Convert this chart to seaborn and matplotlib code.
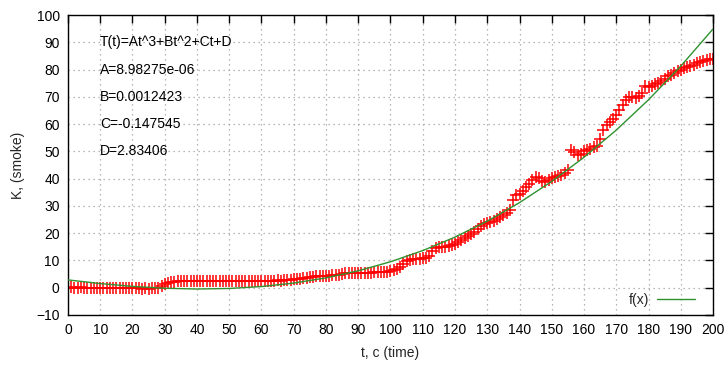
import numpy as np
import pandas as pd
import matplotlib
matplotlib.use("Agg")
import matplotlib.pyplot as plt
import seaborn as sns

# measured data: time (s) and smoke level
t_data = list(range(0, 201))
k_data = [
    0.0, 0.1, -0.1, 0.0, 0.1, -0.1, 0.0, -0.1, 0.0, -0.2,
    -0.1, -0.2, 0.0, -0.1, -0.2, -0.1, -0.2, -0.3, -0.2, -0.1,
    -0.3, -0.2, -0.3, -0.4, -0.3, -0.4, -0.3, -0.2, 0.0, 0.5,
    1.2, 1.8, 2.1, 2.2, 2.3, 2.3, 2.4, 2.3, 2.4, 2.4,
    2.4, 2.5, 2.4, 2.5, 2.4, 2.5, 2.4, 2.5, 2.4, 2.4,
    2.5, 2.4, 2.5, 2.4, 2.5, 2.4, 2.5, 2.4, 2.5, 2.5,
    2.4, 2.5, 2.6, 2.5, 2.6, 2.7, 2.6, 2.7, 2.8, 2.9,
    3.0, 3.1, 3.3, 3.5, 3.7, 3.8, 4.0, 4.1, 4.2, 4.3,
    4.3, 4.4, 4.5, 4.6, 4.7, 5.0, 5.2, 5.2, 5.3, 5.3,
    5.3, 5.4, 5.4, 5.5, 5.5, 5.6, 5.6, 5.7, 5.8, 5.9,
    6.0, 6.3, 6.8, 7.5, 8.6, 9.6, 10.2, 10.4, 10.5, 10.6,
    10.7, 10.8, 11.5, 13.4, 14.6, 14.8, 15.0, 15.0, 15.2, 15.5,
    16.0, 16.6, 17.3, 18.2, 18.9, 19.5, 20.3, 21.4, 22.5, 23.2,
    23.8, 24.2, 24.6, 25.3, 26.0, 26.5, 27.3, 28.6, 32.0, 33.8,
    34.5, 35.5, 36.8, 38.0, 39.4, 40.5, 40.2, 39.2, 38.8, 39.5,
    40.2, 40.5, 41.0, 41.3, 42.2, 43.0, 50.5, 49.8, 48.5, 49.2,
    50.0, 50.4, 51.0, 51.5, 51.8, 54.5, 57.8, 59.5, 60.8, 62.0,
    63.5, 65.0, 67.0, 69.0, 69.8, 70.0, 69.7, 70.2, 71.5, 74.0,
    73.5, 74.0, 74.6, 75.0, 75.8, 76.5, 77.5, 78.0, 78.8, 79.5,
    80.0, 80.6, 81.0, 81.3, 81.7, 82.3, 82.6, 83.0, 83.5, 83.8,
    84.0,
]

# fitted curve f(x)
t_fit = list(range(0, 201, 10))
k_fit = [2.83, 1.49, 0.45, -0.23, -0.51, -0.31, 0.39, 1.67, 3.58, 6.17,
         9.49, 13.59, 18.54, 24.38, 31.18, 38.97, 47.82, 57.79, 68.91, 81.26,
         94.88]

fit_labels = ["T(t)=At^3+Bt^2+Ct+D", "A=8.98275e-06", "B=0.0012423",
              "C=-0.147545", "D=2.83406"]

x_ticks = list(range(0, 201, 10))
y_ticks = list(range(-10, 101, 10))

sns.set_style("white")
plt.rcParams["font.family"] = ["Liberation Sans", "DejaVu Sans"]

fig = plt.figure(figsize=(7.28, 3.67), dpi=100)
ax = fig.add_axes([0.0934, 0.142, 0.886, 0.817])

df = pd.DataFrame({"t": t_data, "k": k_data})
dfit = pd.DataFrame({"t": t_fit, "k": k_fit})

ax.grid(True, linestyle=(0, (1, 3)), color="#a0a0a0", linewidth=0.9)
ax.set_axisbelow(True)

sns.scatterplot(data=df, x="t", y="k", marker="+", color="#ff0000",
                s=65, linewidth=1.1, ax=ax, legend=False, zorder=2)
sns.lineplot(data=dfit, x="t", y="k", color="#2f922f", linewidth=1.0,
             ax=ax, label="f(x)", zorder=3)

ax.set_xlim(0, 200)
ax.set_ylim(-10, 100)
ax.set_xticks(x_ticks)
ax.set_yticks(y_ticks)
ax.tick_params(direction="in", length=6, width=1, top=True, right=True,
               labelsize=10, colors="black", pad=6)
for sp in ax.spines.values():
    sp.set_color("black")
    sp.set_linewidth(1.0)

ax.set_xlabel("t, c (time)", fontsize=10, labelpad=6)
ax.set_ylabel("K, (smoke)", fontsize=10, labelpad=8)

for i, txt in enumerate(fit_labels):
    ax.text(10, 90 - 10 * i, txt, ha="left", va="center", fontsize=10,
            color="black")

leg = ax.legend(loc="lower right", frameon=False, markerfirst=False,
                fontsize=10, handlelength=2.7, handletextpad=0.6,
                borderaxespad=0.2, bbox_to_anchor=(0.985, 0.0))

fig.savefig("out.png", dpi=100)
